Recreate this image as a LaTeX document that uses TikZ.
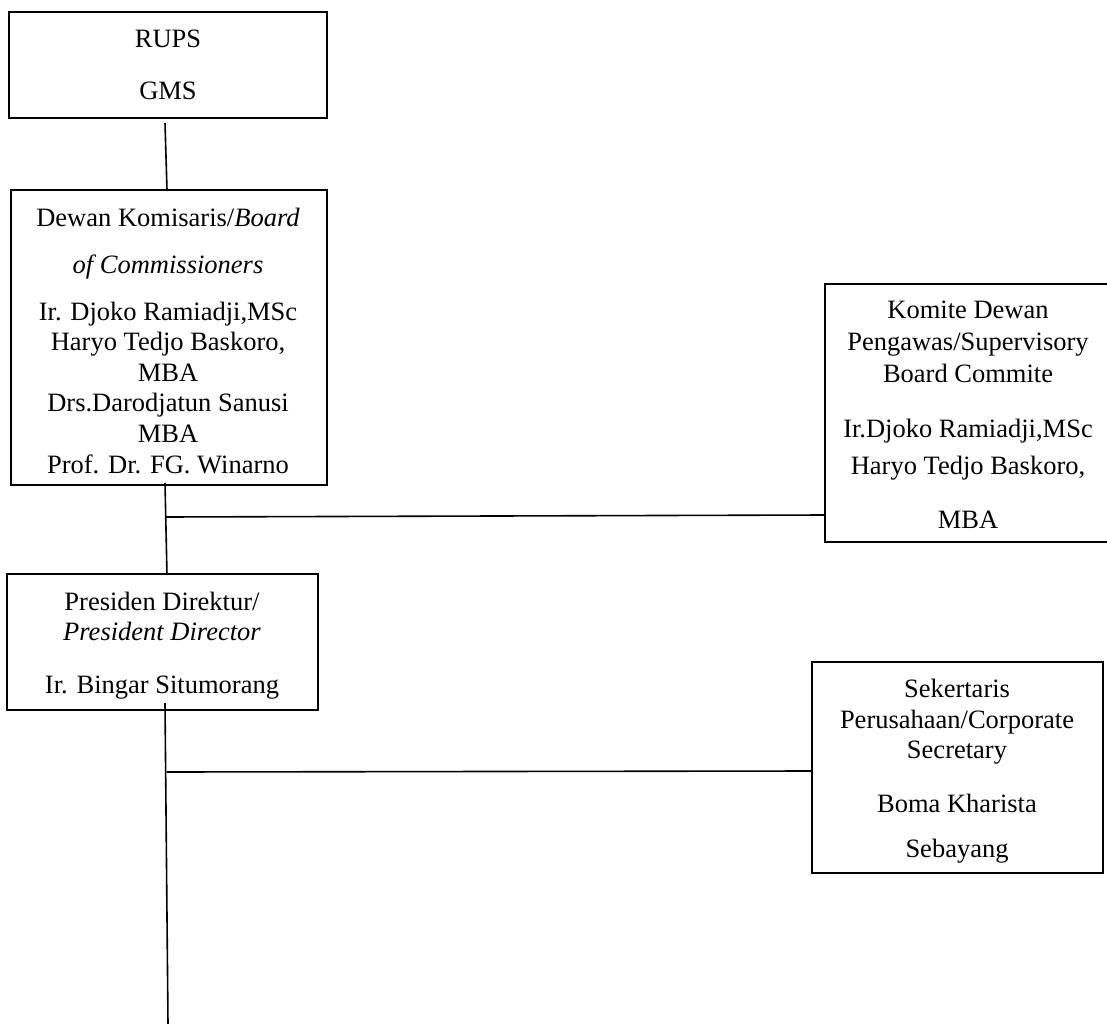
\documentclass[tikz,border=0pt]{standalone}
\usepackage{fontspec}
\setmainfont{Liberation Serif}
\begin{document}
\begin{tikzpicture}[x=1pt,y=-1pt,
  box/.style={draw=black,line width=1.6pt,fill=none},
  txt/.style={anchor=base,inner sep=0pt,font=\fontsize{26.5}{30}\selectfont},
  conn/.style={draw=black,line width=1.6pt}]
\useasboundingbox[fill=white] (0,0) rectangle (1107,1024);
% boxes
\draw[box] (9,12) rectangle (327,118) coordinate (rupsbr);
\node[inner sep=0pt] (rups) at (168,65) {};
\draw[box] (11,190) rectangle (327,485);
\node[inner sep=0pt] (dewan) at (169,337) {};
\draw[box] (825,284) rectangle (1112,542);
\node[inner sep=0pt] (komite) at (825,413) {};
\draw[box] (7,574) rectangle (318,710);
\node[inner sep=0pt] (pres) at (162,642) {};
\draw[box] (812,662) rectangle (1103,873);
\node[inner sep=0pt] (sek) at (812,767) {};
% texts
\node[txt] (t1) at (168,48) {RUPS};
\node[txt] (t2) at (168,100) {GMS};
\node[txt] (d1) at (168,227) {Dewan Komisaris/\textit{Board}};
\node[txt] (d2) at (168,273) {\textit{of Commissioners}};
\node[txt] (d3) at (168,320) {Ir. Djoko Ramiadji,MSc};
\node[txt] (d4) at (168,350.6) {Haryo Tedjo Baskoro,};
\node[txt] (d5) at (168,381.2) {MBA};
\node[txt] (d6) at (168,411.8) {Drs.Darodjatun Sanusi};
\node[txt] (d7) at (168,442.4) {MBA};
\node[txt] (d8) at (168,473) {Prof. Dr. FG. Winarno};
\node[txt] (k1) at (968,318) {Komite Dewan};
\node[txt] (k2) at (968,350) {Pengawas/Supervisory};
\node[txt] (k3) at (968,382) {Board Commite};
\node[txt] (k4) at (968,437) {Ir.Djoko Ramiadji,MSc};
\node[txt] (k5) at (968,474) {Haryo Tedjo Baskoro,};
\node[txt] (k6) at (968,528) {MBA};
\node[txt] (p1) at (162,610) {Presiden Direktur/};
\node[txt] (p2) at (162,640) {\textit{President Director}};
\node[txt] (p3) at (162,693) {Ir. Bingar Situmorang};
\node[txt] (s1) at (957,697) {Sekertaris};
\node[txt] (s2) at (957,728) {Perusahaan/Corporate};
\node[txt] (s3) at (957,758) {Secretary};
\node[txt] (s4) at (957,812) {Boma Kharista};
\node[txt] (s5) at (957,857) {Sebayang};
% connector points
\coordinate (a1) at (165,123);
\coordinate (a2) at (167,190);
\coordinate (b1) at (165,483);
\coordinate (b2) at (167,575);
\coordinate (bj) at (166,517);
\coordinate (c1) at (165,703);
\coordinate (c2) at (168,1024);
\coordinate (cj) at (166.5,772);
% connectors
\draw[conn] (a1) -- (a2);
\draw[conn] (b1) -- (b2);
\draw[conn] (bj) -- (komite.center |- 0,515);
\draw[conn] (c1) -- (c2);
\draw[conn] (cj) -- (sek.center |- 0,771);
\end{tikzpicture}
\end{document}
